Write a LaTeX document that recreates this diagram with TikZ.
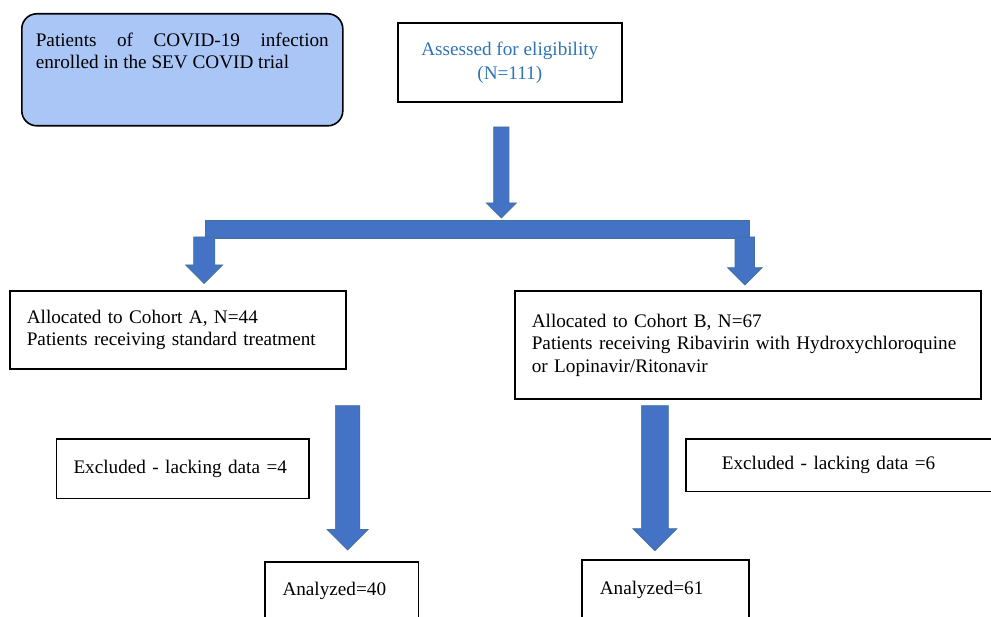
\documentclass[tikz,border=0pt]{standalone}
\usepackage{fontspec}
\setmainfont{Liberation Serif}
\usetikzlibrary{shapes.arrows}
\definecolor{boxblue}{HTML}{A9C6F7}
\definecolor{textblue}{HTML}{2E74B5}
\definecolor{arrowblue}{HTML}{4472C4}
\definecolor{arrowedge}{HTML}{41719C}

\begin{document}
\begin{tikzpicture}[x=1pt,y=-1pt,line cap=round,
  font=\fontsize{19.2}{22.6}\selectfont,
  box/.style={draw,line width=1.6pt,anchor=north west,align=left,inner xsep=17pt,inner ysep=0pt},
  blockarrow/.style={single arrow,rotate=-90,anchor=tail,draw=arrowedge,fill=arrowblue,line width=0.7pt,inner xsep=0pt,outer sep=0pt}]
  \useasboundingbox (0,0) rectangle (991,617);
  \clip (0,0) rectangle (991,617);

  % Top row
  \node[box,rounded corners=15pt,fill=boxblue,inner xsep=14pt,inner ysep=19pt] (trial) at (21,13)
    {\parbox[c][74pt][t]{293pt}{\raggedright Patients\hfill of\hfill COVID-19\hfill infection\\enrolled in the SEV COVID trial}};
  \node[box,align=center,text=textblue,minimum width=224pt,minimum height=79pt] (elig) at (397,22)
    {Assessed for eligibility\\[1.4pt](N=111)};

  % Split into the two cohorts
  \node[blockarrow,inner ysep=7pt,minimum width=30pt,minimum height=91pt] (arrTop) at (501.3,127) {};
  \node[fill=arrowblue,draw=arrowedge,line width=0.7pt,inner sep=0pt,minimum width=544pt,minimum height=17.6pt] (split) at (477,229.5) {};
  \node[blockarrow,inner ysep=9.15pt,minimum width=37pt,minimum height=46.5pt] (arrA) at (204.2,237) {};
  \node[blockarrow,inner ysep=8.8pt,minimum width=34.6pt,minimum height=48pt] (arrB) at (744.8,237) {};

  % Cohorts
  \node[box,text width=302pt,minimum height=78pt] (cohA) at (9,290)
    {Allocated to Cohort A, N=44\\Patients receiving standard treatment};
  \node[box,text width=432pt,minimum height=108pt] (cohB) at (514,290.5)
    {Allocated to Cohort B, N=67\\Patients receiving Ribavirin with Hydroxychloroquine\\or Lopinavir/Ritonavir};

  % Exclusions and analysis
  \node[blockarrow,inner ysep=10.2pt,minimum width=41pt,minimum height=144.3pt] (arrA2) at (347.6,405.7) {};
  \node[blockarrow,inner ysep=10.85pt,minimum width=44pt,minimum height=145pt] (arrB2) at (654.8,405.7) {};
  \node[box,text width=218.6pt,minimum height=59.4pt] (exclA) at (55.7,438.3) {Excluded - lacking data =4};
  \node[box,inner xsep=35.7pt,text width=250pt,minimum height=52.2pt] (exclB) at (685.3,438.3) {Excluded - lacking data =6};
  \node[box,inner xsep=17.7pt,text width=118.3pt,minimum height=58pt] (anaA) at (264,561) {Analyzed=40};
  \node[box,inner xsep=18pt,text width=131.3pt,minimum height=59.4pt] (anaB) at (581,559.3) {Analyzed=61};
\end{tikzpicture}
\end{document}
